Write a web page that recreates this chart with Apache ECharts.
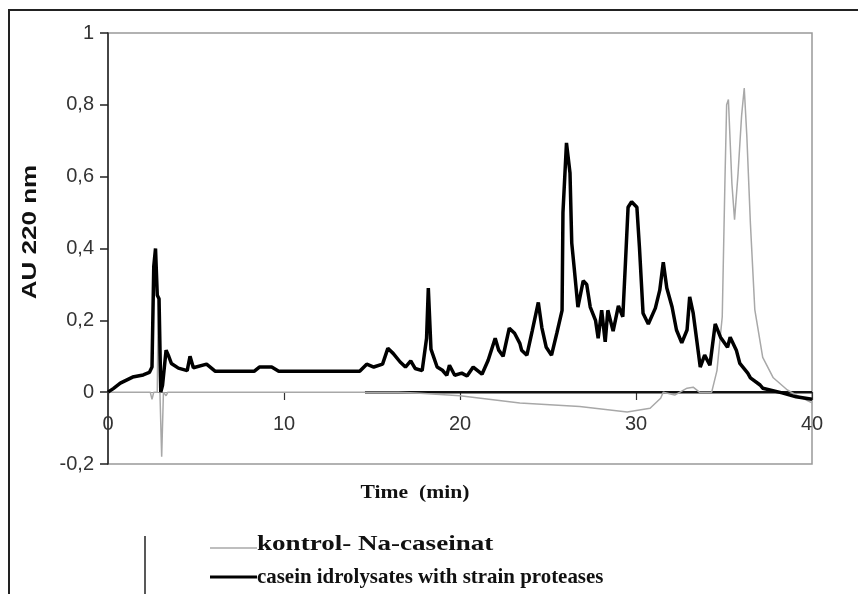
<!DOCTYPE html>
<html><head><meta charset="utf-8">
<script src="https://cdn.jsdelivr.net/npm/echarts@6/dist/echarts.min.js"></script>
<style>html,body{margin:0;padding:0;background:#fff}#c{width:858px;height:594px}</style>
</head><body><div id="c"></div>
<script>
// Time (min) and absorbance (AU) for the hydrolysate trace
const hydroT = [0,0.3,0.7,1.4,2.0,2.35,2.5,2.6,2.7,2.8,2.9,3.0,3.1,3.3,3.45,3.6,4.0,4.5,4.66,4.85,5.6,6.1,8.3,8.6,9.3,9.7,14.3,14.7,15.1,15.6,15.9,16.2,16.6,16.9,17.2,17.45,17.85,18.1,18.2,18.35,18.7,19.0,19.25,19.4,19.7,20.1,20.4,20.75,21.25,21.6,22.0,22.2,22.45,22.8,23.1,23.4,23.5,23.8,24.1,24.45,24.65,24.9,25.2,25.5,25.8,25.85,26.05,26.25,26.35,26.5,26.7,27.0,27.2,27.4,27.7,27.85,28.05,28.25,28.4,28.7,29.0,29.25,29.4,29.55,29.75,30.05,30.2,30.4,30.7,31.1,31.35,31.55,31.75,32.05,32.3,32.6,32.9,33.05,33.25,33.45,33.65,33.9,34.2,34.5,34.8,35.2,35.35,35.7,35.9,36.35,36.5,37.05,37.2,38.3,39.1,40];
const hydroV = [0,0.01,0.025,0.042,0.048,0.055,0.07,0.35,0.40,0.27,0.26,0.0,0.02,0.117,0.1,0.08,0.067,0.06,0.10,0.068,0.078,0.058,0.058,0.07,0.07,0.058,0.058,0.078,0.07,0.078,0.122,0.108,0.084,0.07,0.087,0.066,0.06,0.15,0.29,0.12,0.07,0.061,0.047,0.075,0.047,0.053,0.045,0.07,0.05,0.089,0.15,0.117,0.10,0.178,0.164,0.136,0.117,0.103,0.17,0.25,0.18,0.125,0.103,0.164,0.228,0.5,0.694,0.61,0.415,0.34,0.237,0.31,0.30,0.237,0.2,0.15,0.228,0.14,0.228,0.17,0.24,0.21,0.36,0.515,0.53,0.515,0.40,0.22,0.19,0.234,0.284,0.362,0.29,0.237,0.173,0.137,0.173,0.265,0.22,0.145,0.07,0.103,0.075,0.19,0.153,0.125,0.153,0.117,0.08,0.053,0.04,0.02,0.011,-0.002,-0.013,-0.02];
// Control (Na-caseinate) trace
const ctrlT = [0,2.4,2.5,2.6,2.8,2.85,2.95,3.05,3.15,3.3,3.4,16.5,17.5,20,23.4,26.8,29.5,30.8,31.4,31.55,32.2,32.9,33.25,33.6,34.3,34.6,34.9,35.05,35.15,35.25,35.45,35.6,35.8,36.0,36.15,36.3,36.5,36.75,37.2,37.8,38.6,39.3,40];
const ctrlV = [0,0,-0.02,0,0,0.26,0,-0.18,0,-0.01,0,0,-0.002,-0.01,-0.03,-0.04,-0.055,-0.045,-0.017,0,-0.008,0.011,0.014,0,0,0.06,0.21,0.58,0.80,0.815,0.58,0.48,0.61,0.77,0.847,0.71,0.47,0.23,0.097,0.04,0.006,-0.013,-0.03];
// baseline segment drawn in black along zero
const baseT = [14.6,40];
const baseV = [0,0];
const xTicks = [0,10,20,30,40];
const yTicks = [-0.2,0,0.2,0.4,0.6,0.8,1];
const seriesNames = ['kontrol- Na-caseinat','casein idrolysates with strain proteases'];
const yTitle = 'AU 220 nm';
const xTitle = 'Time  (min)';

const zip = (a,b)=>a.map((t,i)=>[t,b[i]]);
const chart = echarts.init(document.getElementById('c'));
chart.setOption({
  animation:false,
  backgroundColor:'#fff',
  grid:{left:108,top:33,right:46,bottom:130,show:true,borderColor:'#999',borderWidth:1.5},
  xAxis:{type:'value',min:xTicks[0],max:xTicks[xTicks.length-1],interval:10,offset:-72,
    axisLine:{onZero:false,lineStyle:{color:'#999',width:1.2}},
    axisTick:{show:true,inside:false,length:8,lineStyle:{color:'#333',width:1.2}},
    axisLabel:{margin:22,fontFamily:'Liberation Sans',fontSize:20,color:'#333'},
    splitLine:{show:false}},
  yAxis:{type:'value',min:yTicks[0],max:yTicks[yTicks.length-1],interval:0.2,
    axisLine:{show:true,onZero:false,lineStyle:{color:'#222',width:1.5}},
    axisTick:{show:true,length:8,lineStyle:{color:'#222',width:1.5}},
    axisLabel:{margin:14,fontFamily:'Liberation Sans',fontSize:20,color:'#333',
      formatter:v=>String(Math.round(v*10)/10).replace('.',',')},
    splitLine:{show:false}},
  series:[
    {name:seriesNames[0],type:'line',data:zip(ctrlT,ctrlV),showSymbol:false,
      lineStyle:{color:'#a8a8a8',width:1.5},z:2},
    {name:seriesNames[1],type:'line',data:zip(hydroT,hydroV),showSymbol:false,
      lineStyle:{color:'#000',width:3.5},z:3},
    {name:'base',type:'line',data:zip(baseT,baseV),showSymbol:false,
      lineStyle:{color:'#111',width:2.5},z:1,silent:true}
  ],
  graphic:[
    {type:'rect',shape:{x:9,y:10,width:900,height:700},style:{fill:'none',stroke:'#222',lineWidth:2}},
    {type:'text',x:30,y:232,rotation:Math.PI/2,scaleX:1.3,style:{text:yTitle,font:'bold 20px "Liberation Sans"',fill:'#111',textAlign:'center',textVerticalAlign:'middle'}},
    {type:'text',x:415,y:493,scaleX:1.2,style:{text:xTitle,font:'bold 18px "Liberation Serif"',fill:'#111',textAlign:'center',textVerticalAlign:'middle'}},
    {type:'line',shape:{x1:145,y1:536,x2:145,y2:600},style:{stroke:'#222',lineWidth:1.5}},
    {type:'line',shape:{x1:210,y1:548,x2:257,y2:548},style:{stroke:'#a8a8a8',lineWidth:1.5}},
    {type:'text',x:257,y:544,scaleX:1.23,style:{text:seriesNames[0],font:'bold 22px "Liberation Serif"',fill:'#111',textVerticalAlign:'middle'}},
    {type:'line',shape:{x1:210,y1:577,x2:257,y2:577},style:{stroke:'#000',lineWidth:3}},
    {type:'text',x:257,y:577,scaleX:0.95,style:{text:seriesNames[1],font:'bold 22px "Liberation Serif"',fill:'#111',textVerticalAlign:'middle'}}
  ]
});
</script></body></html>
